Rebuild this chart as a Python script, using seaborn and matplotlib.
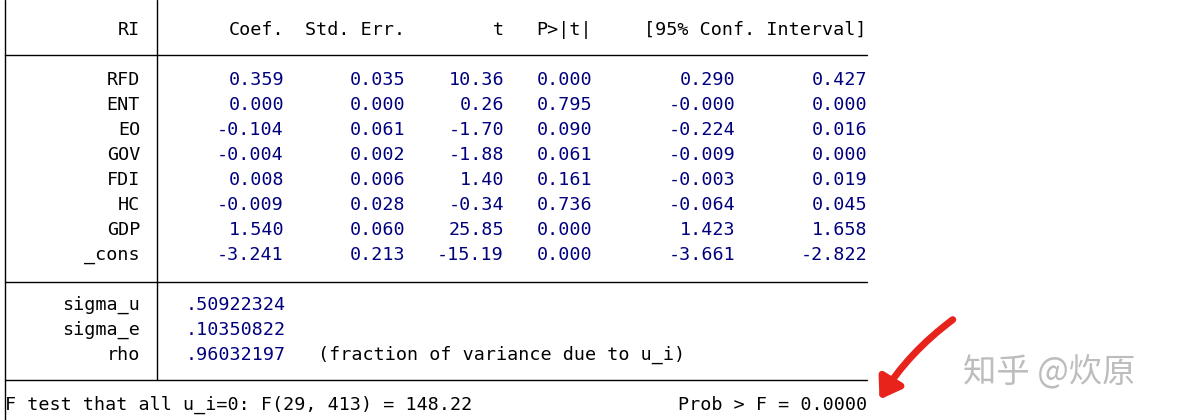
import matplotlib
matplotlib.use("Agg")
import matplotlib.pyplot as plt
import seaborn as sns

sns.set_style("white")
plt.rcParams['font.family'] = ['DejaVu Sans Mono', 'Noto Sans CJK SC']
plt.rcParams['text.color'] = 'black'

dep_var = "RI"
headers = ["Coef.", "Std. Err.", "t", "P>|t|", "[95% Conf. Interval]"]
variables = ["RFD", "ENT", "EO", "GOV", "FDI", "HC", "GDP", "_cons"]
coef = ["0.359", "0.000", "-0.104", "-0.004", "0.008", "-0.009", "1.540", "-3.241"]
stderr = ["0.035", "0.000", "0.061", "0.002", "0.006", "0.028", "0.060", "0.213"]
tvals = ["10.36", "0.26", "-1.70", "-1.88", "1.40", "-0.34", "25.85", "-15.19"]
pvals = ["0.000", "0.795", "0.090", "0.061", "0.161", "0.736", "0.000", "0.000"]
ci_low = ["0.290", "-0.000", "-0.224", "-0.009", "-0.003", "-0.064", "1.423", "-3.661"]
ci_high = ["0.427", "0.000", "0.016", "0.000", "0.019", "0.045", "1.658", "-2.822"]
sigma_names = ["sigma_u", "sigma_e", "rho"]
sigma_vals = [".50922324", ".10350822", ".96032197"]
rho_note = "(fraction of variance due to u_i)"
ftest = "F test that all u_i=0: F(29, 413) = 148.22"
prob = "Prob > F = 0.0000"

fig = plt.figure(figsize=(11.82, 4.2), dpi=100)
ax = fig.add_axes([0, 0, 1, 1])
ax.set_xlim(0, 1182); ax.set_ylim(420, 0); ax.axis("off")

fs = 13.2
navy = "#00007f"
kw = dict(fontsize=fs, va="center")

ax.plot([5, 5], [0, 420], color="black", lw=1)
ax.plot([157, 157], [0, 380], color="black", lw=1)
for y in (55, 282, 380):
    ax.plot([5, 867], [y, y], color="black", lw=1)

ax.text(140, 30, dep_var, ha="right", color="black", **kw)
col_r = [284, 405, 504, 592]
for x, h in zip(col_r, headers[:4]):
    ax.text(x, 30, h, ha="right", color="black", **kw)
ax.text(867, 30, headers[4], ha="right", color="black", **kw)

cols = [coef, stderr, tvals, pvals, ci_low, ci_high]
xs = col_r + [735, 867]
for i, v in enumerate(variables):
    y = 80 + 25 * i
    ax.text(140, y, v, ha="right", color="black", **kw)
    for x, c in zip(xs, cols):
        ax.text(x, y, c[i], ha="right", color=navy, **kw)

for i, (n, v) in enumerate(zip(sigma_names, sigma_vals)):
    y = 305 + 25 * i
    ax.text(140, y, n, ha="right", color="black", **kw)
    ax.text(186, y, v, ha="left", color=navy, **kw)
ax.text(318, 355, rho_note, ha="left", color="black", **kw)
ax.text(5, 405, ftest, ha="left", color="black", **kw)
ax.text(867, 405, prob, ha="right", color="black", **kw)

ax.annotate("", xy=(878, 402), xytext=(955, 318),
            arrowprops=dict(arrowstyle="-|>,head_width=0.8,head_length=1.2",
                            color="#e8231c", lw=5,
                            connectionstyle="arc3,rad=0.1"))
ax.text(963, 372, "知乎 @炊原", fontsize=24, color="#bdbdbd", va="center",
        family=['Noto Sans CJK SC', 'DejaVu Sans'])

fig.savefig("out.png", dpi=100)
